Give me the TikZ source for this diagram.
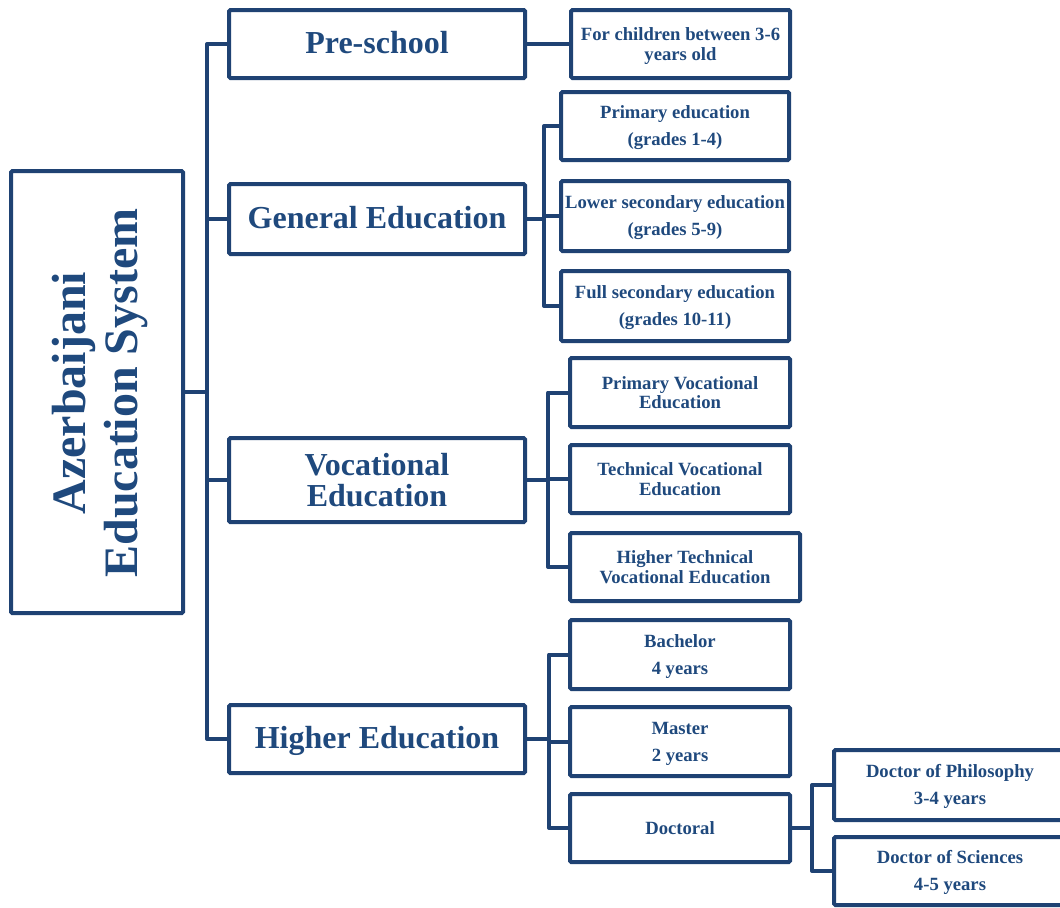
\documentclass[tikz,border=0pt]{standalone}
\usepackage{fontspec}
\setmainfont{Liberation Serif}
\definecolor{ln}{RGB}{31,66,115}
\definecolor{tx}{RGB}{31,73,125}
% top struts (height only) and bottom struts (depth only)
\newcommand\tth{\rule{0pt}{14pt}}
\newcommand\ttd{\rule[-4pt]{0pt}{0pt}}
\newcommand\tlh{\rule{0pt}{15pt}}
\newcommand\tld{\rule[-5.4pt]{0pt}{0pt}}
\newcommand\tbh{\rule{0pt}{20pt}}
\newcommand\tbd{\rule[-6pt]{0pt}{0pt}}
\tikzset{
  rect/.style args={#1/#2/#3/#4}{minimum width={(#3-#1)*0.75pt}, minimum height={(#4-#2)*0.75pt}, at={({(#1+#3)/2},{(#2+#4)/2})}},
  box/.style={draw=ln, line width=3pt, rounded corners=1pt, align=center, text=tx, inner sep=0pt},
  conn/.style={draw=ln, line width=3pt, line join=round},
  big/.style={font=\fontsize{24}{23.25}\selectfont\bfseries},
  tight/.style={font=\fontsize{14}{14.6}\selectfont\bfseries},
  loose/.style={font=\fontsize{14}{20.25}\selectfont\bfseries},
}
\begin{document}
\begin{tikzpicture}[x=0.75pt,y=-0.75pt]
\useasboundingbox (0,0) rectangle (1060,907);
\clip (0,0) rectangle (1060,907);
% main box
\node[box,rect=11/171/183/613] (main) {};
\node[rotate=90, text=tx, align=center, font=\fontsize{36}{39}\selectfont\bfseries] (maintext) at (100,393) {Azerbaijani\\Education System};
% level 1
\node[box,rect=229/10/525/78,big] (pre) {\tbh Pre-school\tbd};
\node[box,rect=229/184/525/254,big] (gen) {\tbh General Education\tbd};
\node[box,rect=229/438/525/522,big] (voc) {\rule{0pt}{21.6pt}Vocational\\Education\rule[-5.5pt]{0pt}{0pt}};
\node[box,rect=229/705/525/773,big] (high) {\tbh Higher Education\tbd};
% level 2
\node[box,rect=571/10/790/78,tight] (forch) {\tth For children between 3-6\\years old\ttd};
\node[box,rect=561/92/789/160,loose] (prim) {\tlh Primary education\\(grades 1-4)\tld};
\node[box,rect=561/181/789/251,loose] (lower) {\tlh Lower secondary education\\(grades 5-9)\tld};
\node[box,rect=561/271/789/341,loose] (full) {\tlh Full secondary education\\(grades 10-11)\tld};
\node[box,rect=570/358/790/427,tight] (pv) {\tth Primary Vocational\\Education\ttd};
\node[box,rect=570/445/790/513,tight] (tv) {\tth Technical Vocational\\Education\ttd};
\node[box,rect=570/533/800/601,tight] (htv) {\tth Higher Technical\\Vocational Education\ttd};
\node[box,rect=570/620/790/689,loose] (bach) {\tlh Bachelor\\4 years\tld};
\node[box,rect=570/707/790/776,loose] (mast) {\tlh Master\\2 years\tld};
\node[box,rect=570/794/790/862,loose] (doc) {\tlh Doctoral\tld};
% level 3
\node[box,rect=834/750/1066/820,loose] (dop) {\tlh Doctor of Philosophy\\3-4 years\tld};
\node[box,rect=834/837/1066/905,loose] (dos) {\tlh Doctor of Sciences\\4-5 years\tld};
% trunk
\coordinate (trunk) at (207,44);
\draw[conn] (main.east) -- (main.east -| trunk);
\draw[conn] (pre.west) -- (trunk) |- (high.west);
\draw[conn] (gen.west) -- (gen.west -| trunk);
\draw[conn] (voc.west) -- (voc.west -| trunk);
\draw[conn] (pre.east) -- (forch.west);
% general
\coordinate (gs) at (544,126);
\draw[conn] (gen.east) -- (gen.east -| gs);
\draw[conn] (prim.west) -- (gs) |- (full.west);
\draw[conn] (lower.west) -- (lower.west -| gs);
% vocational
\coordinate (vs) at (548,392.5);
\draw[conn] (voc.east) -- (voc.east -| vs);
\draw[conn] (pv.west) -- (vs) |- (htv.west);
\draw[conn] (tv.west) -- (tv.west -| vs);
% higher
\coordinate (hs) at (549,654.5);
\draw[conn] (high.east) -- (high.east -| hs);
\draw[conn] (bach.west) -- (hs) |- (doc.west);
\draw[conn] (mast.west) -- (mast.west -| hs);
% doctoral
\coordinate (ds) at (812,785);
\draw[conn] (doc.east) -- (doc.east -| ds);
\draw[conn] (dop.west) -- (ds) |- (dos.west);
\end{tikzpicture}
\end{document}
